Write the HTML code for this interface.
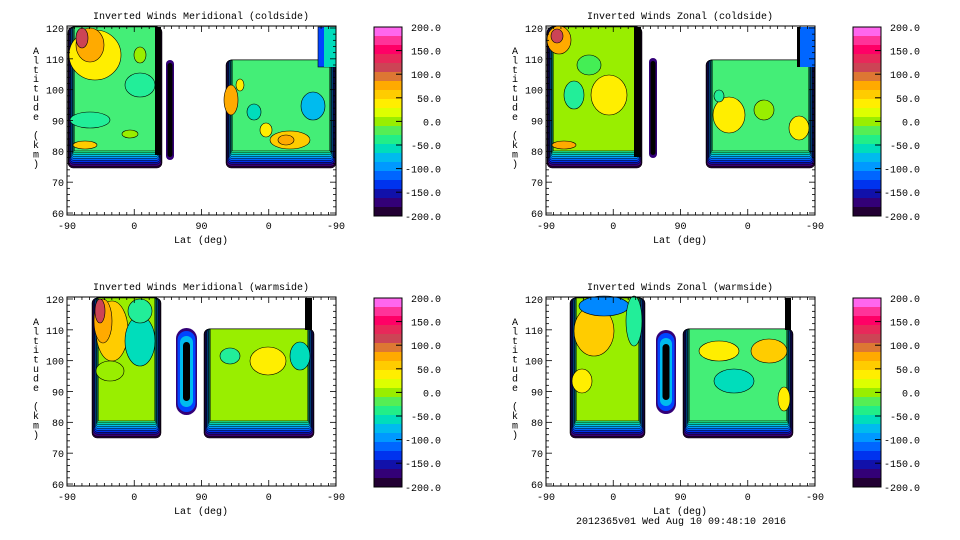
<!DOCTYPE html>
<html><head><meta charset="utf-8"><style>
body{margin:0;background:#fff;}
svg{display:block}
text{font-family:"Liberation Mono","DejaVu Sans Mono",monospace;font-size:10px;fill:#000}
</style></head><body>
<svg id="s" width="960" height="540" xmlns="http://www.w3.org/2000/svg"></svg>
<script>
const S=document.getElementById('s');let h='';
const cb=['#ff66ee','#ff3399','#ff0066','#e8285a','#cc4455','#dd7733','#ffaa00','#ffcc00','#ffee00','#ddff00','#99ee00','#55ee55','#22ee88','#00ddbb','#00bbee','#0099ff','#0066ff','#0033ee','#1111aa','#330077','#220033'];
const band=['#220033','#440088','#1111aa','#0033ee','#0066ff','#0099ff','#00bbee','#00ddbb','#22ee88'];
function region(x,y,w,h2,inner){
 let s='';const n=band.length;
 for(let i=0;i<n;i++){
  s+=`<rect x="${x+i*0.7}" y="${y}" width="${w-i*1.4}" height="${h2-i*1.9}" rx="${Math.max(5-i*0.5,0)}" fill="${band[i]}" stroke="#000" stroke-width="0.5"/>`;
 }
 s+=`<rect x="${x+n*0.7}" y="${y}" width="${w-n*1.4}" height="${h2-n*1.9}" fill="${inner}" stroke="#000" stroke-width="0.5"/>`;
 return s;
}
function el(cx,cy,rx,ry,c){return `<ellipse cx="${cx}" cy="${cy}" rx="${rx}" ry="${ry}" fill="${c}" stroke="#000" stroke-width="0.6"/>`;}
function pill(x,y,w,h2,wide){
 let s=`<rect x="${x}" y="${y}" width="${w}" height="${h2}" rx="${w/2}" fill="#330077"/>`;
 s+=`<rect x="${x+1.5}" y="${y+3}" width="${w-3}" height="${h2-6}" rx="${w/2-1.5}" fill="${wide?'#0044ff':'#000'}"/>`;
 if(wide){s+=`<rect x="${x+4}" y="${y+8}" width="${w-8}" height="${h2-16}" rx="${w/2-4}" fill="#00bbee"/>`;s+=`<rect x="${x+w/2-3.5}" y="${y+14}" width="7" height="${h2-28}" rx="3.5" fill="#000"/>`;}
 return s;
}
function frame(ox,oy,title,content){
 let s=`<g transform="translate(${ox},${oy})">`;
 s+=content;
 s+=`<rect x="67" y="26" width="269" height="189" fill="none" stroke="#000" stroke-width="1"/>`;
 for(let i=0;i<=36;i++){const x=67+i*269/36;const L=i%9==0?6:3;s+=`<line x1="${x}" y1="215" x2="${x}" y2="${215-L}" stroke="#000" stroke-width="0.8"/><line x1="${x}" y1="26" x2="${x}" y2="${26+L}" stroke="#000" stroke-width="0.8"/>`;}
 for(let i=0;i<=30;i++){const y=28+i*185/30;const L=i%5==0?6:3;s+=`<line x1="67" y1="${y}" x2="${67+L}" y2="${y}" stroke="#000" stroke-width="0.8"/><line x1="336" y1="${y}" x2="${336-L}" y2="${y}" stroke="#000" stroke-width="0.8"/>`;}
 const yl=[120,110,100,90,80,70,60];
 yl.forEach((v,i)=>{s+=`<text x="64" y="${32+i*30.8}" text-anchor="end">${v}</text>`;});
 ['-90','0','90','0','-90'].forEach((v,i)=>{s+=`<text x="${67+i*67.25}" y="229" text-anchor="middle">${v}</text>`;});
 s+=`<text x="201" y="243" text-anchor="middle">Lat (deg)</text>`;
 s+=`<text x="201" y="19" text-anchor="middle">${title}</text>`;
 const lab='Altitude (km)';
 for(let i=0;i<lab.length;i++)s+=`<text x="36" y="${54+i*9.4}" text-anchor="middle">${lab[i]}</text>`;
 const bh=189/cb.length;
 cb.forEach((c,i)=>{s+=`<rect x="374" y="${27+i*bh}" width="28" height="${bh+0.3}" fill="${c}"/>`;});
 s+=`<rect x="374" y="27" width="28" height="189" fill="none" stroke="#000"/>`;
 for(let i=0;i<9;i++){const v=200-50*i;const y=27+i*23.6;s+=`<text x="441" y="${y+4}" text-anchor="end">${v.toFixed(1)}</text>`;if(i>0&&i<8)s+=`<line x1="396" y1="${y}" x2="402" y2="${y}" stroke="#000"/>`;}
 s+='</g>';return s;
}
let c1=region(68,27,94,141,'#44ee77')+el(95,55,26,25,'#ffee00')+el(90,45,14,17,'#ffaa00')+el(82,38,6,10,'#cc4455')+el(140,85,15,12,'#22ee99')+el(140,55,6,8,'#99ee00')+el(90,120,20,8,'#22ee99')+el(130,134,8,4,'#99ee00')+el(85,145,12,4,'#ffcc00')+`<rect x="155" y="27" width="6" height="128" fill="#000"/>`+pill(166,60,8,100,false)
 +region(226,60,110,108,'#44ee77')+`<rect x="318" y="27" width="18" height="40" fill="#0044ff" stroke="#000" stroke-width="0.6"/><rect x="324" y="27" width="12" height="40" fill="#00ddbb"/>`+el(231,100,7,15,'#ffaa00')+el(290,140,20,9,'#ffcc00')+el(286,140,8,5,'#ffaa00')+el(313,106,12,14,'#00bbee')+el(254,112,7,8,'#00ddbb')+el(266,130,6,7,'#ffee00')+el(240,85,4,6,'#ffee00');
let c2=region(68,27,95,141,'#99ee00')+el(80,40,12,14,'#ffaa00')+el(78,36,6,7,'#cc4455')+el(130,95,18,20,'#ffee00')+el(95,95,10,14,'#22ee99')+el(110,65,12,10,'#44ee55')+el(85,145,12,4,'#ffaa00')+`<rect x="155" y="27" width="7" height="130" fill="#000"/>`+pill(170,58,8,100,false)
 +region(227,60,109,108,'#44ee77')+`<rect x="318" y="27" width="3" height="40" fill="#000"/><rect x="321" y="27" width="15" height="40" fill="#0066ff"/>`+el(250,115,16,18,'#ffee00')+el(285,110,10,10,'#99ee00')+el(320,128,10,12,'#ffee00')+el(240,96,5,6,'#22ee99');
let c3=region(92,27,69,140,'#99ee00')+el(112,60,16,30,'#ffcc00')+el(103,50,9,22,'#ffaa00')+el(100,40,5,12,'#cc4455')+el(140,70,15,25,'#00ddbb')+el(140,40,12,12,'#22ee99')+el(110,100,14,10,'#99ee00')+pill(176,57,21,87,true)
 +region(204,58,110,109,'#99ee00')+el(268,90,18,14,'#ffee00')+el(230,85,10,8,'#22ee99')+el(300,85,10,14,'#00ddbb')+`<rect x="305" y="27" width="7" height="32" fill="#000"/>`;
let c4=region(91,27,75,140,'#99ee00')+el(115,60,20,25,'#ffcc00')+el(125,35,25,10,'#0088ff')+el(155,50,8,25,'#22ee99')+el(103,110,10,12,'#ffee00')+pill(177,59,20,84,true)
 +region(204,58,110,109,'#44ee77')+el(240,80,20,10,'#ffee00')+el(290,80,18,12,'#ffcc00')+el(255,110,20,12,'#00ddbb')+el(305,128,6,12,'#ffee00')+`<rect x="306" y="27" width="6" height="32" fill="#000"/>`;
h+=frame(0,0,'Inverted Winds Meridional (coldside)',c1);
h+=frame(479,0,'Inverted Winds Zonal (coldside)',c2);
h+=frame(0,271,'Inverted Winds Meridional (warmside)',c3);
h+=frame(479,271,'Inverted Winds Zonal (warmside)',c4);
h+=`<text x="681" y="524" text-anchor="middle">2012365v01 Wed Aug 10 09:48:10 2016</text>`;
S.innerHTML=h;
</script>
</body></html>
